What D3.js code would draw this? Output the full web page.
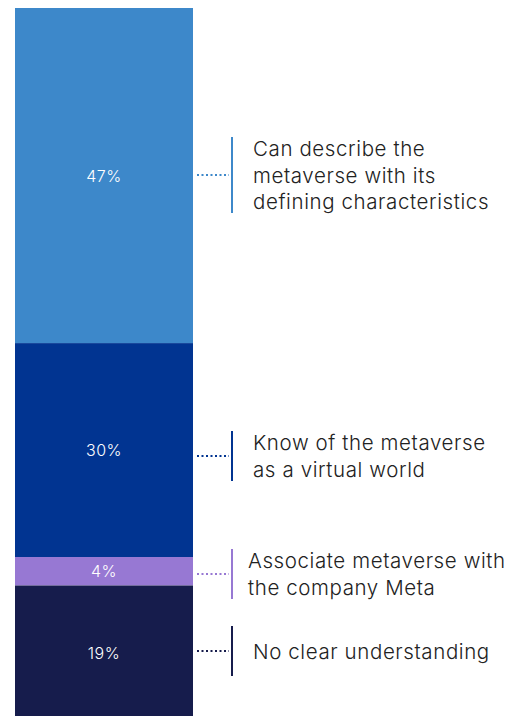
<!DOCTYPE html>
<html><head><meta charset="utf-8">
<script src="https://cdn.jsdelivr.net/npm/d3@7"></script>
<style>html,body{margin:0;padding:0;background:#fff;overflow:hidden}</style>
</head><body>
<svg id="c" width="526" height="716"></svg>
<script>
const categories = ["Can describe the metaverse with its defining characteristics","Know of the metaverse as a virtual world","Associate metaverse with the company Meta","No clear understanding"];
const labelLines = [["Can describe the","metaverse with its","defining characteristics"],["Know of the metaverse","as a virtual world"],["Associate metaverse with","the company Meta"],["No clear understanding"]];
const values = [47,30,4,19];
const colors = ["#3d88ca","#013491","#9778d3","#161c4c"];
const labelY = [175,456,574,651];
const labelX = [253,253,248,253];

const svg = d3.select("#c");
const y = d3.scaleLinear().domain([0,100]).range([8,721]);
const x = d3.scaleBand().domain(["all"]).range([15,193]).padding(0);

let cum = 0;
const segs = values.map((v,i)=>{const s={i,v,y0:cum,y1:cum+v};cum+=v;return s;});

svg.selectAll("rect.seg").data(segs).join("rect")
  .attr("x",x("all")).attr("width",x.bandwidth())
  .attr("y",d=>y(d.y0)).attr("height",d=>y(d.y1)-y(d.y0))
  .attr("fill",d=>colors[d.i]);

svg.selectAll("text.pct").data(segs).join("text")
  .attr("x",x("all")+x.bandwidth()/2).attr("y",d=>(y(d.y0)+y(d.y1))/2)
  .attr("text-anchor","middle").attr("dominant-baseline","central")
  .attr("fill","#fff").attr("font-family","Inter, sans-serif").attr("font-size",16).attr("font-weight",300)
  .attr("letter-spacing",0.5)
  .text(d=>d.v+"%");

const g = svg.selectAll("g.lab").data(segs).join("g");
g.append("line").attr("x1",197).attr("x2",229).attr("y1",d=>labelY[d.i]).attr("y2",d=>labelY[d.i])
  .attr("stroke",d=>colors[d.i]).attr("stroke-width",2).attr("stroke-dasharray","2,2.5");
const half = n => Math.max(25, n*13-1);
g.append("line").attr("x1",232).attr("x2",232)
  .attr("y1",d=>labelY[d.i]-half(labelLines[d.i].length))
  .attr("y2",d=>labelY[d.i]+half(labelLines[d.i].length))
  .attr("stroke",d=>colors[d.i]).attr("stroke-width",2);
g.each(function(d){
  const n = labelLines[d.i].length;
  d3.select(this).selectAll("text").data(labelLines[d.i]).join("text")
    .attr("x",labelX[d.i])
    .attr("y",(t,k)=>labelY[d.i]+(k-(n-1)/2)*26.5)
    .attr("dominant-baseline","central")
    .attr("fill","#222").attr("font-family","Inter, sans-serif").attr("font-size",20.5).attr("font-weight",300)
    .attr("letter-spacing",0.6)
    .text(t=>t);
});
</script>
</body></html>
